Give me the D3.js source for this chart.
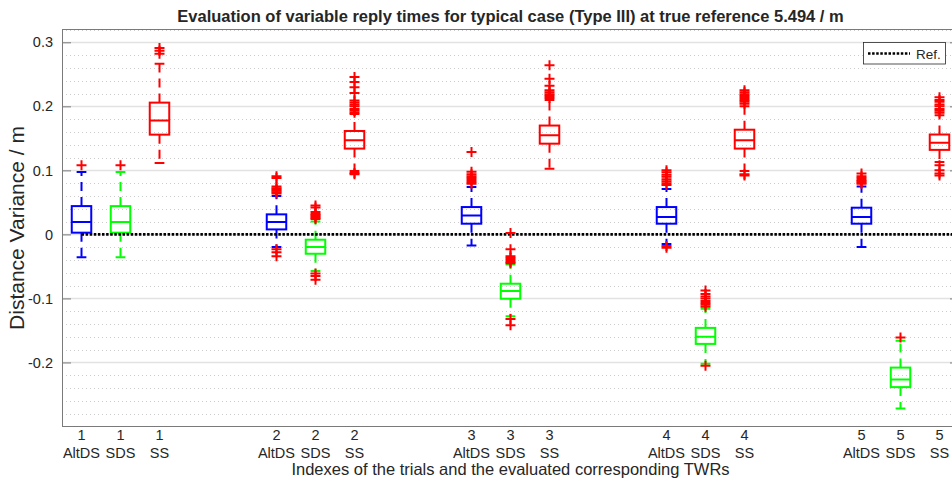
<!DOCTYPE html>
<html>
<head>
<meta charset="utf-8">
<script src="https://cdn.jsdelivr.net/npm/d3@7"></script>
<style>
  html, body { margin: 0; padding: 0; background: #ffffff; }
  svg { display: block; }
  text { font-family: "Liberation Sans", Arial, Helvetica, sans-serif; fill: #262626; }
</style>
</head>
<body>
<svg id="chart" width="952" height="483"></svg>
<script>
// Trials and the TWR methods evaluated in each trial
const trialIds = [1, 2, 3, 4, 5];
const methods = ["AltDS", "SDS", "SS"];

// Box statistics per box, ordered trial by trial: AltDS, SDS, SS
const whiskerLow = [
  -0.0355, -0.0355, 0.1117,
  -0.0195, -0.057, 0.099,
  -0.0172, -0.128, 0.1026,
  -0.0148, -0.202, 0.099,
  -0.0198, -0.272, 0.113
];
const quartile1 = [
  0.0027, 0.0027, 0.1558,
  0.0078, -0.0302, 0.134,
  0.0167, -0.1005, 0.1417,
  0.0167, -0.171, 0.134,
  0.0167, -0.2385, 0.132
];
const medians = [
  0.0192, 0.0192, 0.178,
  0.0193, -0.0198, 0.147,
  0.0297, -0.0885, 0.1547,
  0.027, -0.160, 0.147,
  0.027, -0.2266, 0.143
];
const quartile3 = [
  0.0442, 0.0442, 0.2058,
  0.0313, -0.0083, 0.1615,
  0.0427, -0.077, 0.170,
  0.0427, -0.146, 0.1635,
  0.0417, -0.208, 0.156
];
const whiskerHigh = [
  0.0973, 0.0973, 0.2667,
  0.060, 0.020, 0.188,
  0.074, -0.047, 0.210,
  0.071, -0.116, 0.200,
  0.075, -0.166, 0.186
];
const outliers = [
  [0.108],
  [0.108],
  [0.2823, 0.287, 0.2911],
  [0.064, 0.066, 0.068, 0.070, 0.072, 0.075, 0.088, 0.091, -0.023, -0.028, -0.034],
  [0.024, 0.026, 0.028, 0.030, 0.032, 0.035, 0.042, 0.045, -0.061, -0.065, -0.071],
  [0.190, 0.193, 0.196, 0.200, 0.203, 0.206, 0.209, 0.221, 0.230, 0.238, 0.246, 0.096, 0.094],
  [0.079, 0.082, 0.085, 0.088, 0.091, 0.094, 0.098, 0.1286],
  [-0.045, -0.043, -0.040, -0.037, -0.034, -0.023, 0.002, -0.132, -0.142],
  [0.213, 0.216, 0.219, 0.222, 0.225, 0.232, 0.243, 0.264],
  [0.077, 0.080, 0.083, 0.086, 0.090, 0.093, 0.097, 0.100, -0.018, -0.021],
  [-0.113, -0.110, -0.107, -0.104, -0.100, -0.097, -0.093, -0.0875, -0.205],
  [0.204, 0.207, 0.210, 0.213, 0.216, 0.219, 0.222, 0.225, 0.094, 0.092],
  [0.079, 0.081, 0.083, 0.085, 0.088, 0.091, 0.095],
  [-0.161],
  [0.190, 0.193, 0.196, 0.200, 0.203, 0.207, 0.210, 0.214, 0.108, 0.100, 0.095, 0.092]
];

// Reference value (distance variance of zero) and y-axis ticks
const referenceValue = 0;
const yTickValues = [-0.2, -0.1, 0, 0.1, 0.2, 0.3];
const yTickLabels = ["-0.2", "-0.1", "0", "0.1", "0.2", "0.3"];

const titleText = "Evaluation of variable reply times for typical case (Type III) at true reference 5.494 / m";
const xLabelText = "Indexes of the trials and the evaluated corresponding TWRs";
const yLabelText = "Distance Variance / m";
const legendText = "Ref.";

// ---- styles ----
const methodColors = { AltDS: "#0000ff", SDS: "#00ff00", SS: "#ff0000" };
const outlierColor = "#ff0000";
const axisColor = "#7a7a7a";

// ---- layout ----
const plot = { left: 62, top: 29.5, right: 959, bottom: 426.5 };

// Build the boxes: each trial occupies a block of five slots, three of them used
const boxes = [];
trialIds.forEach((t, ti) => {
  methods.forEach((m, mi) => {
    const i = ti * methods.length + mi;
    boxes.push({
      trial: t, method: m, pos: ti * 5 + mi + 1,
      lo: whiskerLow[i], q1: quartile1[i], med: medians[i], q3: quartile3[i], hi: whiskerHigh[i],
      out: outliers[i]
    });
  });
});

const x = d3.scaleLinear().domain([0.5, 23.5]).range([plot.left, plot.right]);
const y = d3.scaleLinear().domain([-0.3, 0.32]).range([plot.bottom, plot.top]);

const svg = d3.select("#chart");

// Clip to the axes area
svg.append("defs").append("clipPath").attr("id", "plotClip")
  .append("rect").attr("x", plot.left).attr("y", plot.top)
  .attr("width", plot.right - plot.left).attr("height", plot.bottom - plot.top);

// Grid: minor dotted lines every 0.02, major solid lines every 0.1
const gridG = svg.append("g").attr("clip-path", "url(#plotClip)");
const minorVals = d3.range(-15, 17).map(k => k * 0.02).filter(v => Math.abs(Math.round(v * 10) - v * 10) > 1e-6);
gridG.selectAll("line.minor").data(minorVals).join("line")
  .attr("class", "minor")
  .attr("x1", plot.left).attr("x2", plot.right)
  .attr("y1", d => Math.round(y(d)) + 0.5).attr("y2", d => Math.round(y(d)) + 0.5)
  .attr("stroke", "#cccccc").attr("stroke-width", 1).attr("stroke-dasharray", "1,3");
gridG.selectAll("line.major").data(yTickValues).join("line")
  .attr("class", "major")
  .attr("x1", plot.left).attr("x2", plot.right)
  .attr("y1", d => Math.round(y(d)) + 0.5).attr("y2", d => Math.round(y(d)) + 0.5)
  .attr("stroke", "#e2e2e2").attr("stroke-width", 1.3);

// Axes frame with inward ticks on left and right
const yAxisLeft = d3.axisLeft(y).tickValues(yTickValues).tickSize(-9).tickPadding(9)
  .tickFormat((d, i) => yTickLabels[i]);
const gLeft = svg.append("g").attr("transform", `translate(${plot.left},0)`).call(yAxisLeft);
gLeft.select(".domain").remove();
gLeft.selectAll(".tick line").attr("stroke", axisColor);
gLeft.selectAll(".tick text").attr("font-size", "14.5px").attr("fill", "#262626")
  .attr("font-family", "'Liberation Sans', Arial, sans-serif");

const yAxisRight = d3.axisRight(y).tickValues(yTickValues).tickSize(-9).tickFormat("");
const gRight = svg.append("g").attr("transform", `translate(${plot.right},0)`).call(yAxisRight);
gRight.select(".domain").remove();
gRight.selectAll(".tick line").attr("stroke", axisColor);

svg.append("rect")
  .attr("x", plot.left + 0.5).attr("y", plot.top)
  .attr("width", plot.right - plot.left).attr("height", plot.bottom - plot.top)
  .attr("fill", "none").attr("stroke", axisColor).attr("stroke-width", 1);

// Boxes
const boxHalf = 0.25;   // half box width in slot units
const capHalf = 0.125;
const boxG = svg.append("g").attr("clip-path", "url(#plotClip)");
const bg = boxG.selectAll("g.box").data(boxes).join("g").attr("class", "box");

bg.append("line") // upper whisker
  .attr("x1", d => x(d.pos)).attr("x2", d => x(d.pos))
  .attr("y1", d => y(d.q3)).attr("y2", d => y(d.hi))
  .attr("stroke", d => methodColors[d.method]).attr("stroke-width", 2)
  .attr("stroke-dasharray", "9,6");
bg.append("line") // lower whisker
  .attr("x1", d => x(d.pos)).attr("x2", d => x(d.pos))
  .attr("y1", d => y(d.q1)).attr("y2", d => y(d.lo))
  .attr("stroke", d => methodColors[d.method]).attr("stroke-width", 2)
  .attr("stroke-dasharray", "9,6");
bg.append("line") // upper cap
  .attr("x1", d => x(d.pos - capHalf)).attr("x2", d => x(d.pos + capHalf))
  .attr("y1", d => y(d.hi)).attr("y2", d => y(d.hi))
  .attr("stroke", d => methodColors[d.method]).attr("stroke-width", 2);
bg.append("line") // lower cap
  .attr("x1", d => x(d.pos - capHalf)).attr("x2", d => x(d.pos + capHalf))
  .attr("y1", d => y(d.lo)).attr("y2", d => y(d.lo))
  .attr("stroke", d => methodColors[d.method]).attr("stroke-width", 2);
bg.append("rect")
  .attr("x", d => x(d.pos - boxHalf)).attr("width", d => x(d.pos + boxHalf) - x(d.pos - boxHalf))
  .attr("y", d => y(d.q3)).attr("height", d => y(d.q1) - y(d.q3))
  .attr("fill", "none").attr("stroke", d => methodColors[d.method]).attr("stroke-width", 2);
bg.append("line") // median
  .attr("x1", d => x(d.pos - boxHalf)).attr("x2", d => x(d.pos + boxHalf))
  .attr("y1", d => y(d.med)).attr("y2", d => y(d.med))
  .attr("stroke", d => methodColors[d.method]).attr("stroke-width", 2);

// Reference line
boxG.append("line")
  .attr("x1", x(1)).attr("x2", x(23.5))
  .attr("y1", y(referenceValue)).attr("y2", y(referenceValue))
  .attr("stroke", "#000").attr("stroke-width", 2.6).attr("stroke-dasharray", "2.5,1.6");

// Outliers as '+' markers
const outData = boxes.flatMap(b => b.out.map(v => ({ pos: b.pos, v })));
boxG.selectAll("path.out").data(outData).join("path")
  .attr("class", "out")
  .attr("transform", d => `translate(${x(d.pos)},${y(d.v)})`)
  .attr("d", "M-5,0H5M0,-5V5")
  .attr("stroke", outlierColor).attr("stroke-width", 2).attr("fill", "none");

// X tick labels: trial index over method name
const xl = svg.append("g");
xl.selectAll("text").data(boxes).join("text")
  .attr("x", d => x(d.pos)).attr("y", 440)
  .attr("text-anchor", "middle").attr("font-size", "14.5px")
  .each(function (d) {
    const t = d3.select(this);
    t.append("tspan").attr("x", x(d.pos)).attr("y", 440).text(d.trial);
    t.append("tspan").attr("x", x(d.pos)).attr("y", 458).text(d.method);
  });

// Axis labels and title
svg.append("text")
  .attr("x", (plot.left + plot.right) / 2).attr("y", 475)
  .attr("text-anchor", "middle").attr("font-size", "16.5px").text(xLabelText);
svg.append("text")
  .attr("transform", `translate(24,${(plot.top + plot.bottom) / 2}) rotate(-90)`)
  .attr("text-anchor", "middle").attr("font-size", "21px").text(yLabelText);
svg.append("text")
  .attr("x", (plot.left + plot.right) / 2).attr("y", 22)
  .attr("text-anchor", "middle").attr("font-size", "16.5px").attr("font-weight", "bold")
  .attr("fill", "#000").text(titleText);

// Legend
const lg = svg.append("g");
lg.append("rect").attr("x", 863.5).attr("y", 42.5).attr("width", 82).attr("height", 21.5)
  .attr("fill", "#fff").attr("stroke", "#262626").attr("stroke-width", 0.8);
lg.append("line").attr("x1", 868).attr("x2", 910).attr("y1", 53.5).attr("y2", 53.5)
  .attr("stroke", "#000").attr("stroke-width", 2.6).attr("stroke-dasharray", "2.5,1.6");
lg.append("text").attr("x", 916).attr("y", 58.5).attr("font-size", "13.5px").text(legendText);
</script>
</body>
</html>
